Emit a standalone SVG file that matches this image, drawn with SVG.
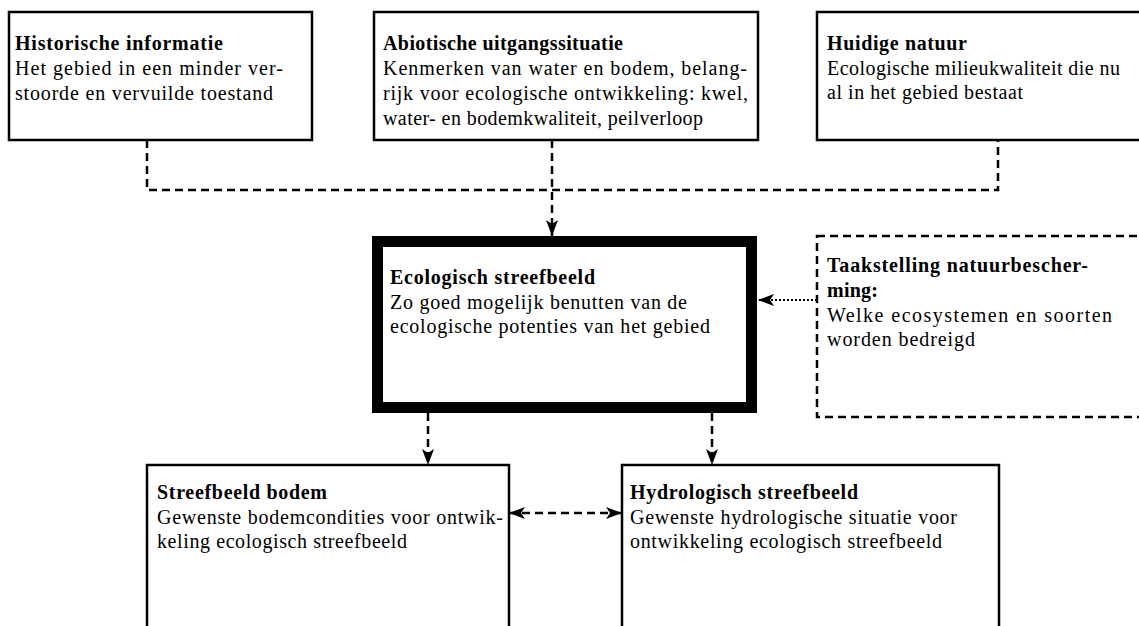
<svg xmlns="http://www.w3.org/2000/svg" width="1139" height="626" viewBox="0 0 1139 626">
<style>
.box{fill:#fff;stroke:#000;stroke-width:2.5}
.thick{fill:#fff;stroke:#000;stroke-width:11}
.dbox{fill:#fff;stroke:#000;stroke-width:2.5;stroke-dasharray:8 5}
.t{font-family:"Liberation Serif","Times New Roman",serif;font-size:20px;fill:#000}
.b{font-weight:bold}
.dash{fill:none;stroke:#000;stroke-width:2.5;stroke-dasharray:8 5}
.dot{fill:none;stroke:#000;stroke-width:2;stroke-dasharray:2 2}
</style>
<defs>
<marker id="ah" viewBox="0 0 16 12" refX="16" refY="6" markerWidth="16" markerHeight="12" markerUnits="userSpaceOnUse" orient="auto-start-reverse">
<path d="M0,0 L16,6 L0,12 L4,6 Z" fill="#000"/>
</marker>
</defs>
<rect width="1139" height="626" fill="#fff"/>

<g id="connectors">
<path class="dash" d="M147,140 V190 H998 V140"/>
<path class="dash" d="M552,140 V236" marker-end="url(#ah)"/>
<path class="dot" d="M817,300 H758" marker-end="url(#ah)"/>
<path class="dash" d="M428,413 V465" marker-end="url(#ah)"/>
<path class="dash" d="M712,413 V465" marker-end="url(#ah)"/>
<path class="dash" d="M509,513 H622" marker-start="url(#ah)" marker-end="url(#ah)"/>
</g>

<g id="historische">
<rect class="box" x="9" y="12" width="303" height="128"/>
<text class="t b" x="15" y="50" textLength="208" lengthAdjust="spacing">Historische informatie</text>
<text class="t" x="15" y="75" textLength="268" lengthAdjust="spacing">Het gebied in een minder ver-</text>
<text class="t" x="15" y="100" textLength="258" lengthAdjust="spacing">stoorde en vervuilde toestand</text>
</g>

<g id="abiotisch">
<rect class="box" x="374" y="12" width="384" height="128"/>
<text class="t b" x="383" y="50" textLength="240" lengthAdjust="spacing">Abiotische uitgangssituatie</text>
<text class="t" x="383" y="75" textLength="364" lengthAdjust="spacing">Kenmerken van water en bodem, belang-</text>
<text class="t" x="383" y="100" textLength="365" lengthAdjust="spacing">rijk voor ecologische ontwikkeling: kwel,</text>
<text class="t" x="383" y="125" textLength="320" lengthAdjust="spacing">water- en bodemkwaliteit, peilverloop</text>
</g>

<g id="huidig">
<rect class="box" x="817" y="12" width="340" height="128"/>
<text class="t b" x="827" y="50" textLength="140" lengthAdjust="spacing">Huidige natuur</text>
<text class="t" x="827" y="75" textLength="293" lengthAdjust="spacing">Ecologische milieukwaliteit die nu</text>
<text class="t" x="827" y="99" textLength="196" lengthAdjust="spacing">al in het gebied bestaat</text>
</g>

<g id="streefbeeld">
<rect class="thick" x="377.5" y="241.5" width="374" height="166"/>
<text class="t b" x="390" y="284" textLength="205" lengthAdjust="spacing">Ecologisch streefbeeld</text>
<text class="t" x="390" y="309" textLength="297" lengthAdjust="spacing">Zo goed mogelijk benutten van de</text>
<text class="t" x="390" y="333" textLength="320" lengthAdjust="spacing">ecologische potenties van het gebied</text>
</g>

<g id="taakstelling">
<rect class="dbox" x="817" y="236" width="340" height="181"/>
<text class="t b" x="827" y="272" textLength="261" lengthAdjust="spacing">Taakstelling natuurbescher-</text>
<text class="t b" x="827" y="297" textLength="51" lengthAdjust="spacing">ming:</text>
<text class="t" x="827" y="322" textLength="285" lengthAdjust="spacing">Welke ecosystemen en soorten</text>
<text class="t" x="827" y="346" textLength="148" lengthAdjust="spacing">worden bedreigd</text>
</g>

<g id="bodem">
<rect class="box" x="147" y="465" width="362" height="200"/>
<text class="t b" x="157" y="499" textLength="170" lengthAdjust="spacing">Streefbeeld bodem</text>
<text class="t" x="157" y="524" textLength="346" lengthAdjust="spacing">Gewenste bodemcondities voor ontwik-</text>
<text class="t" x="157" y="548" textLength="250" lengthAdjust="spacing">keling ecologisch streefbeeld</text>
</g>

<g id="hydrologisch">
<rect class="box" x="622" y="465" width="377" height="200"/>
<text class="t b" x="630" y="499" textLength="228" lengthAdjust="spacing">Hydrologisch streefbeeld</text>
<text class="t" x="630" y="524" textLength="327" lengthAdjust="spacing">Gewenste hydrologische situatie voor</text>
<text class="t" x="630" y="548" textLength="312" lengthAdjust="spacing">ontwikkeling ecologisch streefbeeld</text>
</g>
</svg>
